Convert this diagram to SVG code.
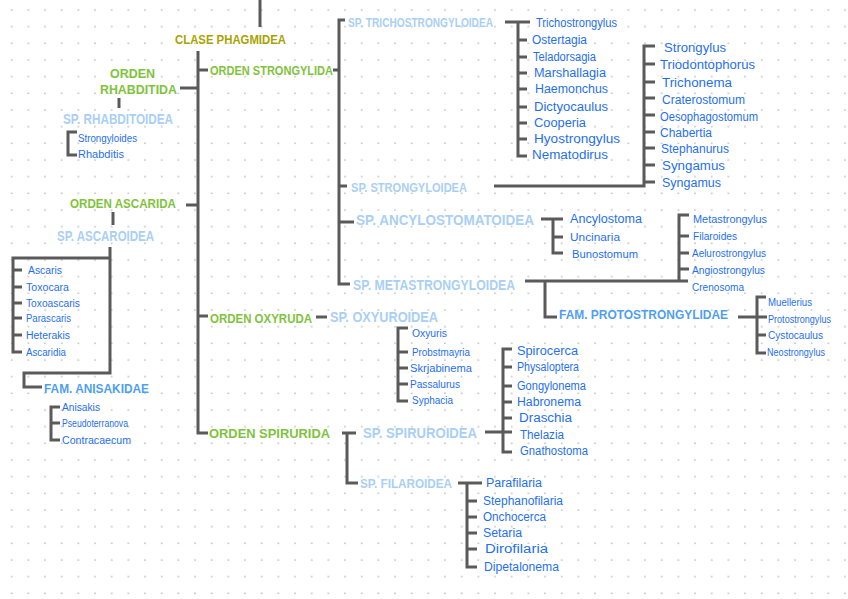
<svg xmlns="http://www.w3.org/2000/svg" width="848" height="599" viewBox="0 0 848 599">
<defs>
<pattern id="dots" x="0" y="0" width="16.667" height="16.667" patternUnits="userSpaceOnUse">
<circle cx="11.7" cy="10" r="0.85" fill="#bdbdbd"/>
</pattern>
<style>
.ln{fill:none;stroke:#5a5a5a;stroke-width:3;stroke-linecap:butt;stroke-linejoin:miter}
text{dominant-baseline:central;font-family:"Liberation Sans","DejaVu Sans",sans-serif}
.cl{fill:#a9a300;font-weight:bold;font-size:13px}
.or{fill:#7fc33c;font-weight:bold;font-size:13px}
.sp{fill:#a9cff6;font-weight:bold;font-size:13px}
.spl{fill:#a9cff6;font-weight:bold;font-size:14px}
.fm{fill:#4f9ff0;font-weight:bold;font-size:13px}
.it{fill:#1f6ff0;font-size:12px}
.is{fill:#1f6ff0;font-size:10px}
</style>
</defs>
<rect width="848" height="599" fill="#ffffff"/>
<rect width="848" height="599" fill="url(#dots)"/>

<g id="connectors">
<path class="ln" d="M260 0V27"/>
<path class="ln" d="M198 51V433H208M198 70H208M180 88H198M186 205H198M198 316H208"/>
<path class="ln" d="M119 98V108"/>
<path class="ln" d="M77 132H68V155H77"/>
<path class="ln" d="M113 212V225"/>
<path class="ln" d="M110 247V373H24V387H42"/>
<path class="ln" d="M110 258H13V352H22M13 270H22M13 287H22M13 303H22M13 318H22M13 335H22"/>
<path class="ln" d="M60 407H51V440H60M51 423H60"/>
<path class="ln" d="M333 70H339M345 20H339V284H350M339 186H347M339 222H354"/>
<path class="ln" d="M505 22H530M518 22V156H527M518 40H527M518 57H527M518 73H527M518 89H527M518 107H527M518 123H527M518 139H527"/>
<path class="ln" d="M494 186H644V46H655M644 64H655M644 82H655M644 98H655M644 115H655M644 132H655M644 148H655M644 165H655M644 182H655"/>
<path class="ln" d="M541 219H563M553 219V253H563M553 237H563"/>
<path class="ln" d="M525 281H688M679 281V215H689M679 236H689M679 253H689M679 269H689"/>
<path class="ln" d="M545 281V317H557"/>
<path class="ln" d="M738 317H767M766 297H757V353H766M757 335H766"/>
<path class="ln" d="M316 317H327"/>
<path class="ln" d="M408 328H398V401H408M398 352H408M398 368H408M398 384H408"/>
<path class="ln" d="M342 433H356M347 433V483H358"/>
<path class="ln" d="M485 432H512M512 349H503V452H512M503 367H512M503 386H512M503 402H512M503 418H512"/>
<path class="ln" d="M458 483H482M467 483V567H477M467 501H477M467 517H477M467 533H477M467 549H477"/>
</g>

<g id="clase"><text class="cl" x="175" y="39" textLength="111" lengthAdjust="spacingAndGlyphs">CLASE PHAGMIDEA</text></g>

<g id="orden-rhabditida">
<text class="or" x="110" y="73" textLength="45" lengthAdjust="spacingAndGlyphs">ORDEN</text>
<text class="or" x="100" y="89" textLength="77" lengthAdjust="spacingAndGlyphs">RHABDITIDA</text>
</g>
<g id="sp-rhabditoidea">
<text class="spl" x="63" y="119" textLength="110" lengthAdjust="spacingAndGlyphs">SP. RHABDITOIDEA</text>
<text class="is" x="78" y="138" textLength="59" lengthAdjust="spacingAndGlyphs">Strongyloides</text>
<text class="is" x="78" y="154" textLength="46" lengthAdjust="spacingAndGlyphs">Rhabditis</text>
</g>

<g id="orden-ascarida"><text class="or" x="70" y="203" textLength="106" lengthAdjust="spacingAndGlyphs">ORDEN ASCARIDA</text></g>
<g id="sp-ascaroidea">
<text class="spl" x="57" y="236" textLength="97" lengthAdjust="spacingAndGlyphs">SP. ASCAROIDEA</text>
<text class="is" x="28" y="270" textLength="34" lengthAdjust="spacingAndGlyphs">Ascaris</text>
<text class="is" x="26" y="287" textLength="43" lengthAdjust="spacingAndGlyphs">Toxocara</text>
<text class="is" x="26" y="303" textLength="54" lengthAdjust="spacingAndGlyphs">Toxoascaris</text>
<text class="is" x="26" y="318" textLength="45" lengthAdjust="spacingAndGlyphs">Parascaris</text>
<text class="is" x="26" y="335" textLength="44" lengthAdjust="spacingAndGlyphs">Heterakis</text>
<text class="is" x="26" y="352" textLength="40" lengthAdjust="spacingAndGlyphs">Ascaridia</text>
</g>
<g id="fam-anisakidae">
<text class="fm" x="44" y="388" textLength="105" lengthAdjust="spacingAndGlyphs">FAM. ANISAKIDAE</text>
<text class="is" x="62" y="407" textLength="38" lengthAdjust="spacingAndGlyphs">Anisakis</text>
<text class="is" x="62" y="423" textLength="66" lengthAdjust="spacingAndGlyphs">Pseudoterranova</text>
<text class="is" x="62" y="440" textLength="69" lengthAdjust="spacingAndGlyphs">Contracaecum</text>
</g>

<g id="orden-strongylida"><text class="or" x="210" y="70" textLength="123" lengthAdjust="spacingAndGlyphs">ORDEN STRONGYLIDA</text></g>
<g id="sp-trichostrongyloidea">
<text class="sp" x="348" y="22" textLength="145" lengthAdjust="spacingAndGlyphs">SP. TRICHOSTRONGYLOIDEA</text>
<text class="it" x="536" y="23" textLength="81" lengthAdjust="spacingAndGlyphs">Trichostrongylus</text>
<text class="it" x="532" y="40" textLength="55" lengthAdjust="spacingAndGlyphs">Ostertagia</text>
<text class="it" x="533" y="57" textLength="63" lengthAdjust="spacingAndGlyphs">Teladorsagia</text>
<text class="it" x="534" y="73" textLength="72" lengthAdjust="spacingAndGlyphs">Marshallagia</text>
<text class="it" x="535" y="89" textLength="73" lengthAdjust="spacingAndGlyphs">Haemonchus</text>
<text class="it" x="534" y="107" textLength="74" lengthAdjust="spacingAndGlyphs">Dictyocaulus</text>
<text class="it" x="534" y="123" textLength="52" lengthAdjust="spacingAndGlyphs">Cooperia</text>
<text class="it" x="534" y="139" textLength="86" lengthAdjust="spacingAndGlyphs">Hyostrongylus</text>
<text class="it" x="532" y="155" textLength="76" lengthAdjust="spacingAndGlyphs">Nematodirus</text>
</g>
<g id="sp-strongyloidea">
<text class="sp" x="351" y="187" textLength="116" lengthAdjust="spacingAndGlyphs">SP. STRONGYLOIDEA</text>
<text class="it" x="664" y="48" textLength="62" lengthAdjust="spacingAndGlyphs">Strongylus</text>
<text class="it" x="660" y="65" textLength="95" lengthAdjust="spacingAndGlyphs">Triodontophorus</text>
<text class="it" x="662" y="83" textLength="70" lengthAdjust="spacingAndGlyphs">Trichonema</text>
<text class="it" x="662" y="100" textLength="83" lengthAdjust="spacingAndGlyphs">Craterostomum</text>
<text class="it" x="660" y="117" textLength="98" lengthAdjust="spacingAndGlyphs">Oesophagostomum</text>
<text class="it" x="660" y="133" textLength="52" lengthAdjust="spacingAndGlyphs">Chabertia</text>
<text class="it" x="661" y="149" textLength="68" lengthAdjust="spacingAndGlyphs">Stephanurus</text>
<text class="it" x="662" y="166" textLength="63" lengthAdjust="spacingAndGlyphs">Syngamus</text>
<text class="it" x="662" y="183" textLength="59" lengthAdjust="spacingAndGlyphs">Syngamus</text>
</g>
<g id="sp-ancylostomatoidea">
<text class="spl" x="356" y="220" textLength="178" lengthAdjust="spacingAndGlyphs">SP. ANCYLOSTOMATOIDEA</text>
<text class="it" x="570" y="219" textLength="72" lengthAdjust="spacingAndGlyphs">Ancylostoma</text>
<text class="is" x="570" y="237" textLength="50" lengthAdjust="spacingAndGlyphs">Uncinaria</text>
<text class="is" x="572" y="254" textLength="66" lengthAdjust="spacingAndGlyphs">Bunostomum</text>
</g>
<g id="sp-metastrongyloidea">
<text class="spl" x="353" y="285" textLength="162" lengthAdjust="spacingAndGlyphs">SP. METASTRONGYLOIDEA</text>
<text class="is" x="693" y="219" textLength="74" lengthAdjust="spacingAndGlyphs">Metastrongylus</text>
<text class="is" x="693" y="236" textLength="44" lengthAdjust="spacingAndGlyphs">Filaroides</text>
<text class="is" x="692" y="253" textLength="74" lengthAdjust="spacingAndGlyphs">Aelurostrongylus</text>
<text class="is" x="692" y="270" textLength="73" lengthAdjust="spacingAndGlyphs">Angiostrongylus</text>
<text class="is" x="692" y="287" textLength="52" lengthAdjust="spacingAndGlyphs">Crenosoma</text>
</g>
<g id="fam-protostrongylidae">
<text class="fm" x="559" y="314" textLength="169" lengthAdjust="spacingAndGlyphs">FAM. PROTOSTRONGYLIDAE</text>
<text class="is" x="768" y="302" textLength="44" lengthAdjust="spacingAndGlyphs">Muellerius</text>
<text class="is" x="768" y="319" textLength="63" lengthAdjust="spacingAndGlyphs">Protostrongylus</text>
<text class="is" x="768" y="335" textLength="55" lengthAdjust="spacingAndGlyphs">Cystocaulus</text>
<text class="is" x="767" y="352" textLength="58" lengthAdjust="spacingAndGlyphs">Neostrongylus</text>
</g>

<g id="orden-oxyurida"><text class="or" x="210" y="318" textLength="102" lengthAdjust="spacingAndGlyphs">ORDEN OXYRUDA</text></g>
<g id="sp-oxyuroidea">
<text class="spl" x="330" y="317" textLength="108" lengthAdjust="spacingAndGlyphs">SP. OXYUROIDEA</text>
<text class="is" x="412" y="333" textLength="35" lengthAdjust="spacingAndGlyphs">Oxyuris</text>
<text class="is" x="412" y="352" textLength="58" lengthAdjust="spacingAndGlyphs">Probstmayria</text>
<text class="is" x="410" y="368" textLength="62" lengthAdjust="spacingAndGlyphs">Skrjabinema</text>
<text class="is" x="410" y="384" textLength="50" lengthAdjust="spacingAndGlyphs">Passalurus</text>
<text class="is" x="412" y="400" textLength="41" lengthAdjust="spacingAndGlyphs">Syphacia</text>
</g>

<g id="orden-spirurida"><text class="or" x="209" y="433" textLength="121" lengthAdjust="spacingAndGlyphs">ORDEN SPIRURIDA</text></g>
<g id="sp-spiruroidea">
<text class="spl" x="363" y="433" textLength="114" lengthAdjust="spacingAndGlyphs">SP. SPIRUROIDEA</text>
<text class="it" x="517" y="351" textLength="61" lengthAdjust="spacingAndGlyphs">Spirocerca</text>
<text class="it" x="517" y="367" textLength="62" lengthAdjust="spacingAndGlyphs">Physaloptera</text>
<text class="it" x="517" y="386" textLength="69" lengthAdjust="spacingAndGlyphs">Gongylonema</text>
<text class="it" x="517" y="402" textLength="64" lengthAdjust="spacingAndGlyphs">Habronema</text>
<text class="it" x="519" y="418" textLength="53" lengthAdjust="spacingAndGlyphs">Draschia</text>
<text class="it" x="520" y="435" textLength="44" lengthAdjust="spacingAndGlyphs">Thelazia</text>
<text class="it" x="520" y="451" textLength="68" lengthAdjust="spacingAndGlyphs">Gnathostoma</text>
</g>
<g id="sp-filaroidea">
<text class="sp" x="360" y="483" textLength="92" lengthAdjust="spacingAndGlyphs">SP. FILAROIDEA</text>
<text class="it" x="486" y="483" textLength="56" lengthAdjust="spacingAndGlyphs">Parafilaria</text>
<text class="it" x="483" y="501" textLength="80" lengthAdjust="spacingAndGlyphs">Stephanofilaria</text>
<text class="it" x="483" y="517" textLength="63" lengthAdjust="spacingAndGlyphs">Onchocerca</text>
<text class="it" x="483" y="533" textLength="39" lengthAdjust="spacingAndGlyphs">Setaria</text>
<text class="it" x="485" y="549" textLength="63" lengthAdjust="spacingAndGlyphs">Dirofilaria</text>
<text class="it" x="484" y="567" textLength="75" lengthAdjust="spacingAndGlyphs">Dipetalonema</text>
</g>
</svg>
